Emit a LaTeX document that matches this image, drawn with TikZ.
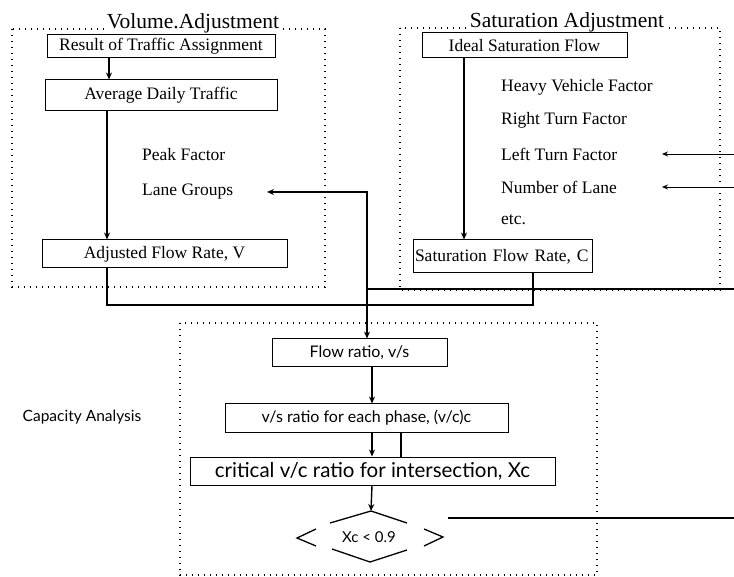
\documentclass[tikz,border=0pt]{standalone}
\usepackage{fontspec}
\setmainfont{Liberation Serif}
\newfontfamily\capfont{Lato}
\usetikzlibrary{arrows.meta,calc}
\begin{document}
\begin{tikzpicture}[x=1pt,y=-1pt,
  box/.style={draw,line width=1pt,inner sep=0pt,font=\fontsize{17.5}{20}\selectfont},
  sbox/.style={draw,line width=1pt,inner sep=0pt,font=\capfont\fontsize{16}{19}\selectfont},
  lbl/.style={anchor=west,inner sep=0pt,font=\fontsize{17.5}{20}\selectfont},
  frame/.style={line width=1.4pt,dash pattern=on 1.3pt off 4.7pt},
  conn/.style={line width=1.4pt},
  arr/.style={conn,-{Stealth[length=7pt,width=6pt]}},
  thinarr/.style={line width=0.9pt,-{Stealth[length=6pt,width=5pt]}},
  ttl/.style={fill=white,inner sep=1pt,anchor=base,font=\fontsize{21.5}{25}\selectfont}
]
\useasboundingbox (0,0) rectangle (734,577);
\fill[white] (0,0) rectangle (734,577);

% frames
\draw[frame] (12,29) rectangle (325,287);
\draw[frame] (400,28) rectangle (720,290);
\draw[frame] (180,323) rectangle (597,575);
\node[ttl] (tvol) at (193,29) {Volume.Adjustment};
\node[ttl] (tsat) at (567,28) {Saturation Adjustment};

% volume side
\node[box,minimum width=228pt,minimum height=23pt] (res) at (161,46.5) {Result of Traffic Assignment};
\node[box,minimum width=232pt,minimum height=31pt] (adt) at (161,95.5) {Average Daily Traffic};
\node[lbl] (peak) at (142,155) {Peak Factor};
\node[lbl] (lane) at (142,192) {Lane Groups};
\node[box,minimum width=245pt,minimum height=28pt] (adj) at (164.5,254) {Adjusted Flow Rate, V};

% saturation side
\node[box,minimum width=205pt,minimum height=25pt] (ideal) at (524.5,45.5) {Ideal Saturation Flow};
\node[lbl] (heavy) at (501,87) {Heavy Vehicle Factor};
\node[lbl] (right) at (501,120) {Right Turn Factor};
\node[lbl] (left) at (501,154) {Left Turn Factor};
\node[lbl] (numl) at (501,187) {Number of Lane};
\node[lbl] (etc) at (501,220) {etc.};
\node[box,text width=175pt,align=left,inner xsep=2pt,minimum height=33pt] (sfr) at (502.5,256.5) {Saturation Flow Rate, C};

% capacity
\node[inner sep=0pt,font=\capfont\fontsize{15.5}{18}\selectfont] (capa) at (82,417) {Capacity Analysis};
\node[sbox,minimum width=175pt,minimum height=28pt] (flow) at (359.5,353) {Flow ratio, v/s};
\node[sbox,minimum width=283pt,minimum height=28pt] (vsr) at (366.5,418) {v/s ratio for each phase, (v/c)c};
\node[sbox,minimum width=365pt,minimum height=28pt,font=\capfont\fontsize{20.5}{23}\selectfont] (crit) at (372.5,471) {critical v/c ratio for intersection, Xc};
\node[inner sep=0pt,font=\capfont\fontsize{15}{18}\selectfont] (dia) at (369,537) {Xc < 0.9};

% helper coordinates
\coordinate (cA) at (109,0);
\coordinate (cB) at (107,0);
\coordinate (cV) at (367,0);
\coordinate (cS) at (533,0);
\coordinate (cI) at (464,0);
\coordinate (cF) at (372,0);
\coordinate (cG) at (401,0);
\coordinate (jL) at (107,305);
\coordinate (tG) at (267,192);
\coordinate (eR1) at (734,289);
\coordinate (eL) at (734,154);
\coordinate (eN) at (734,187);
\coordinate (tL) at (662,154);
\coordinate (tN) at (662,187);
\coordinate (eX) at (734,518);
\coordinate (sX) at (448,518);

% connectors volume
\draw[arr] (res.south -| cA) -- (adt.north -| cA);
\draw[arr] (adt.south -| cB) -- (adj.north -| cB);
\draw[conn] (adj.south -| cB) -- (jL) -| (sfr.south -| cS);
\draw[conn,{Stealth[length=7pt,width=6pt]}-{Stealth[length=7pt,width=6pt]}] (tG) -| (flow.north -| cV);
\draw[conn] (eR1) -- (eR1 -| cV);

% saturation connectors
\draw[arr] (ideal.south -| cI) -- (sfr.north -| cI);
\draw[thinarr] (eL) -- (tL);
\draw[thinarr] (eN) -- (tN);

% capacity connectors
\draw[arr] (flow.south -| cF) -- (vsr.north -| cF);
\draw[arr] (vsr.south -| cF) -- (crit.north -| cF);
\draw[conn] (vsr.south -| cG) -- (crit.north -| cG);
\draw[arr] (crit.south -| cF) -- ($(dia.center)+(2,-26)$);

% diamond
\draw[line width=1.3pt] ($(dia.center)+(-39,-14)$) -- ($(dia.center)+(2,-26)$) -- ($(dia.center)+(38,-14)$);
\draw[line width=1.3pt] ($(dia.center)+(-37,12)$) -- ($(dia.center)+(1,25)$) -- ($(dia.center)+(38,13)$);
\draw[line width=1.3pt] ($(dia.center)+(-53,-8)$) -- ($(dia.center)+(-72,1)$) -- ($(dia.center)+(-53,9)$);
\draw[line width=1.3pt] ($(dia.center)+(55,-8)$) -- ($(dia.center)+(74,0)$) -- ($(dia.center)+(55,9)$);
\draw[conn] (sX) -- (eX);
\end{tikzpicture}
\end{document}
